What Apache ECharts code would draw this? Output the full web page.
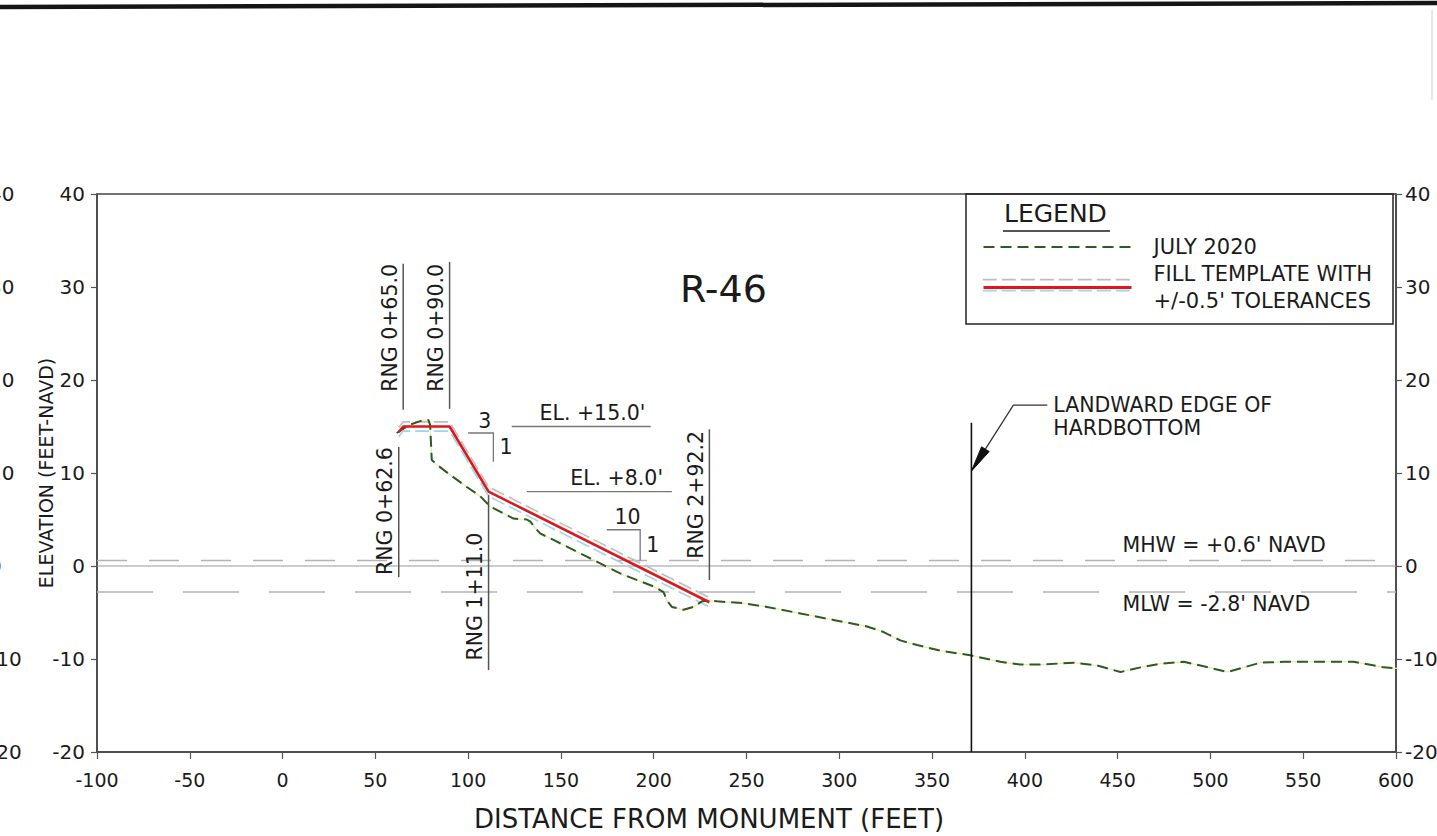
<!DOCTYPE html>
<html>
<head>
<meta charset="utf-8">
<title>R-46 Beach Profile</title>
<script src="https://cdn.jsdelivr.net/npm/echarts@6/dist/echarts.min.js"></script>
<style>
  html, body { margin: 0; padding: 0; background: #ffffff; }
  #chart { width: 1437px; height: 836px; }
</style>
</head>
<body>
<div id="chart"></div>
<script>
const FONT = '"DejaVu Sans", Verdana, sans-serif';
const INK = '#1b1b1b';

// Axis ranges: [min, max, step]
const distanceAxis = [-100, 600, 50];
const elevationAxis = [-20, 40, 10];

// July 2020 survey profile (distance ft, elevation ft NAVD)
const surveyDistance = [61.5, 68.7, 75.9, 78.6, 79.5, 80.4, 83.1, 90.3, 99.3, 106.5,
  111.9, 124.4, 131.6, 133.4, 136.1, 138.8, 146.0, 164.0, 181.9, 199.9,
  205.3, 207.1, 209.8, 216.1, 221.5, 226.0, 230.5, 234.1, 248.4, 261.0,
  279.0, 296.9, 314.9, 323.9, 332.9, 341.9, 354.4, 370.6, 386.8, 397.6,
  408.4, 426.3, 439.0, 451.5, 462.3, 473.0, 485.6, 494.6, 509.0, 526.9,
  539.5, 577.2, 593.4, 600.3, 622.4];
const surveyElevation = [14.3, 15.2, 15.7, 15.7, 15.2, 11.4, 10.9, 9.8, 8.5, 7.5,
  6.4, 5.1, 5.0, 4.8, 4.1, 3.5, 2.8, 1.0, -0.8, -2.2,
  -2.8, -3.7, -4.4, -4.7, -4.4, -3.8, -3.7, -3.8, -4.0, -4.4,
  -5.1, -5.8, -6.5, -7.1, -8.0, -8.5, -9.1, -9.6, -10.3, -10.6,
  -10.6, -10.4, -10.7, -11.4, -10.9, -10.5, -10.3, -10.7, -11.4, -10.4,
  -10.3, -10.3, -10.9, -11.0, -11.0];

// Fill template vertices
const templateDistance = [62.6, 65.0, 90.0, 111.0, 230.0];
const templateElevation = [14.4, 15.0, 15.0, 8.0, -3.9];
const templateTolerance = 0.5;

// Tidal datums (ft NAVD)
const tideNames = ['MHW', 'MLW'];
const tideElevation = [0.6, -2.8];

// Range leaders
const stationLabels = ['RNG 0+62.6', 'RNG 0+65.0', 'RNG 0+90.0', 'RNG 1+11.0', 'RNG 2+92.2'];
const stationDistance = [62.6, 65.0, 90.0, 111.0, 230.0];

// Design elevation callouts
const calloutElevation = [15.0, 8.0];

// Slope callouts (run : rise)
const slopeRun = [3, 10];
const slopeRise = [1, 1];

// Landward edge of hardbottom
const hardbottomDistance = [371.2];

// ---- annotation geometry (data units) ----
// leader line [bottom elev, top elev, label centre elev]
const stationLeaderSpan = [[-1.2, 12.8, 5.9], [16.8, 32.5, 25.6], [16.9, 32.7, 25.6], [-11.2, 7.65, -3.3], [-1.5, 14.7, 7.65]];
// callout underline [from, to, text centre]
const calloutSpan = [[123.5, 198.4, 167], [131.6, 209.8, 180]];
// slope triangle corner [x, y, horizontal length, vertical length]
const slopeCorner = [[113.6, 14.3, 13.6, 3.1], [192.7, 3.9, 18, 3.3]];
const hardbottomLeader = { top: 15.4, tip: 10.2, elbow: [393.8, 17.3], end: 412.1 };
const tideLabelAt = 452.6;

const pairs = (xs, ys, dy = 0) => xs.map((x, i) => [x, ys[i] + dy]);
const tolText = `+/-${templateTolerance.toFixed(1)}'`;
const TEMPLATE_NAME = `FILL TEMPLATE WITH\n${tolText} TOLERANCES`;
const TOL_UP = `${tolText} TOLERANCE (UPPER)`;
const TOL_DN = `${tolText} TOLERANCE (LOWER)`;

const NOTE_SIZE = 20.5;
const textStyle = (extra) => Object.assign({ fill: INK, fontSize: NOTE_SIZE, fontFamily: FONT }, extra);

const chart = echarts.init(document.getElementById('chart'), null, { renderer: 'svg' });

const yAxisBase = {
  type: 'value', min: elevationAxis[0], max: elevationAxis[1], interval: elevationAxis[2],
  splitLine: { show: false },
  axisLine: { show: true, onZero: false, lineStyle: { color: '#444', width: 1.5 } },
  axisTick: { show: true, length: 6, lineStyle: { color: '#555', width: 1.2 } },
  axisLabel: { fontSize: 20, color: INK, fontFamily: FONT }
};

const legendHidden = { itemStyle: { opacity: 0 } };

const option = {
  animation: false,
  backgroundColor: '#ffffff',
  textStyle: { fontFamily: FONT },
  title: {
    text: 'R-46', left: 680, top: 270, padding: 0,
    textStyle: { fontSize: 38, fontWeight: 'normal', color: INK, fontFamily: FONT }
  },
  grid: {
    left: 97, right: 41, top: 194, bottom: 84, outerBoundsMode: 'none', containLabel: false,
    show: true, borderColor: '#444', borderWidth: 1.5
  },
  xAxis: {
    type: 'value', min: distanceAxis[0], max: distanceAxis[1], interval: distanceAxis[2],
    position: 'bottom',
    splitLine: { show: false },
    axisLine: { show: true, onZero: false, lineStyle: { color: '#444', width: 1.5 } },
    axisTick: { show: true, length: 7, lineStyle: { color: '#555', width: 1.2 } },
    axisLabel: { fontSize: 19, color: INK, fontFamily: FONT, margin: 18 },
    name: 'DISTANCE FROM MONUMENT (FEET)', nameLocation: 'middle', nameGap: 54, nameMoveOverlap: false,
    nameTextStyle: { fontSize: 26, color: INK, fontFamily: FONT, padding: [0, 75, 0, 0] }
  },
  yAxis: [
    Object.assign({}, yAxisBase, {
      position: 'left',
      axisLabel: Object.assign({}, yAxisBase.axisLabel, { margin: 12 }),
      name: 'ELEVATION (FEET-NAVD)', nameLocation: 'middle', nameGap: 42, nameMoveOverlap: false,
      nameTextStyle: { fontSize: 19, color: INK, fontFamily: FONT }
    }),
    Object.assign({}, yAxisBase, {
      position: 'right',
      axisLabel: Object.assign({}, yAxisBase.axisLabel, { margin: 9 })
    }),
    // right-hand scale of the neighbouring sheet panel, cut at the page edge
    Object.assign({}, yAxisBase, {
      position: 'left', offset: 117,
      axisLine: { show: false, onZero: false }, axisTick: { show: false },
      axisLabel: Object.assign({}, yAxisBase.axisLabel, { inside: true, margin: 9 })
    })
  ],
  legend: [
    Object.assign({
      data: [{ name: 'JULY 2020' }, { name: TEMPLATE_NAME, lineStyle: { width: 3 } }],
      orient: 'vertical', left: 982, top: 233.5, padding: 0,
      itemWidth: 148, itemHeight: 14, itemGap: 0, selectedMode: false,
      textStyle: { fontFamily: FONT, fontSize: 21, color: INK, lineHeight: 27, padding: [0, 0, 0, 17] }
    }, legendHidden),
    Object.assign({
      data: [TOL_UP], left: 982, top: 278, padding: 0,
      itemWidth: 148, itemHeight: 4, selectedMode: false, formatter: () => '',
      lineStyle: { width: 1.6 }, textStyle: { fontSize: 4, lineHeight: 4 }
    }, legendHidden),
    Object.assign({
      data: [TOL_DN], left: 982, top: 289, padding: 0,
      itemWidth: 148, itemHeight: 4, selectedMode: false, formatter: () => '',
      lineStyle: { width: 1.6 }, textStyle: { fontSize: 4, lineHeight: 4 }
    }, legendHidden)
  ],
  graphic: [
    { type: 'line', silent: true, shape: { x1: 0, y1: 7, x2: 1437, y2: 3 }, style: { stroke: '#151515', lineWidth: 4.5 } },
    { type: 'line', silent: true, shape: { x1: 1432, y1: 10, x2: 1432, y2: 100 }, style: { stroke: '#d0d0d0', lineWidth: 1 } },
    { type: 'rect', silent: true, shape: { x: 966, y: 194, width: 427, height: 130 }, style: { fill: 'none', stroke: '#222', lineWidth: 1.5 } },
    { type: 'text', silent: true, x: 1004, y: 213, style: textStyle({ text: 'LEGEND', fontSize: 25, verticalAlign: 'middle' }) },
    { type: 'line', silent: true, shape: { x1: 1003, y1: 231, x2: 1110, y2: 231 }, style: { stroke: '#555', lineWidth: 2 } }
  ],
  series: [
    // NAVD 0 reference line
    {
      type: 'line', name: 'NAVD 0', silent: true, symbol: 'none', z: 1,
      data: [[distanceAxis[0], 0], [distanceAxis[1], 0]],
      lineStyle: { color: '#9a9a9a', width: 1.2 }
    },
    // tidal datums
    ...tideNames.map((n, i) => ({
      type: 'line', name: n, silent: true, symbol: 'none', z: 1,
      data: [[distanceAxis[0], tideElevation[i]], [distanceAxis[1], tideElevation[i]]],
      lineStyle: { color: '#b3b3b3', width: 1.5, type: i === 0 ? [30, 22] : [56, 30] }
    })),
    // tolerance band around the template
    {
      type: 'line', name: TOL_UP, silent: true, symbol: 'none', z: 2,
      data: pairs(templateDistance, templateElevation, templateTolerance),
      lineStyle: { color: '#bdbdbd', width: 1.6, type: [14, 5] }
    },
    {
      type: 'line', name: TOL_DN, silent: true, symbol: 'none', z: 2,
      data: pairs(templateDistance, templateElevation, -templateTolerance),
      lineStyle: { color: '#9fd6e2', width: 1.6, type: [14, 5] }
    },
    // survey trace underlay
    {
      type: 'line', name: 'survey trace', silent: true, symbol: 'none', z: 3, clip: false,
      data: pairs(surveyDistance, surveyElevation),
      lineStyle: { color: '#e9ecaa', width: 1.2 }
    },
    {
      type: 'line', name: 'JULY 2020', silent: true, symbol: 'none', z: 4, clip: false,
      data: pairs(surveyDistance, surveyElevation),
      lineStyle: { color: '#2f5a22', width: 2, type: [11, 6] }
    },
    {
      type: 'line', name: TEMPLATE_NAME, silent: true, symbol: 'none', z: 5,
      data: pairs(templateDistance, templateElevation),
      lineStyle: { color: '#e0161c', width: 2.6 }
    },
    // range leaders with rotated labels
    {
      type: 'custom', name: 'ranges', silent: true, clip: false, z: 6,
      data: stationDistance.map((x, i) => [x, stationLeaderSpan[i][1]]),
      renderItem(params, api) {
        const i = params.dataIndex;
        const x = stationDistance[i];
        const [lo, hi, mid] = stationLeaderSpan[i];
        const a = api.coord([x, lo]), b = api.coord([x, hi]), m = api.coord([x, mid]);
        return {
          type: 'group', children: [
            { type: 'line', shape: { x1: a[0], y1: a[1], x2: b[0], y2: b[1] }, style: { stroke: '#555', lineWidth: 1.5, fill: 'none' } },
            { type: 'text', x: a[0] - 3, y: m[1], rotation: Math.PI / 2,
              style: textStyle({ text: stationLabels[i], align: 'center', verticalAlign: 'bottom' }) }
          ]
        };
      }
    },
    // design elevation callouts
    {
      type: 'custom', name: 'elevations', silent: true, clip: false, z: 6,
      data: calloutElevation.map((e, i) => [calloutSpan[i][2], e]),
      renderItem(params, api) {
        const i = params.dataIndex, e = calloutElevation[i];
        const [from, to, mid] = calloutSpan[i];
        const a = api.coord([from, e]), b = api.coord([to, e]), t = api.coord([mid, e]);
        return {
          type: 'group', children: [
            { type: 'line', shape: { x1: a[0], y1: a[1], x2: b[0], y2: b[1] }, style: { stroke: '#777', lineWidth: 1.3, fill: 'none' } },
            { type: 'text', x: t[0], y: a[1] - 3,
              style: textStyle({ text: `EL. +${e.toFixed(1)}'`, align: 'center', verticalAlign: 'bottom' }) }
          ]
        };
      }
    },
    // slope callouts
    {
      type: 'custom', name: 'slopes', silent: true, clip: false, z: 6,
      data: slopeCorner.map(c => [c[0], c[1]]),
      renderItem(params, api) {
        const i = params.dataIndex;
        const [cx, cy, h, v] = slopeCorner[i];
        const c = api.coord([cx, cy]), l = api.coord([cx - h, cy]), d = api.coord([cx, cy - v]);
        return {
          type: 'group', children: [
            { type: 'polyline', shape: { points: [l, c, d] }, style: { stroke: '#777', lineWidth: 1.3, fill: 'none' } },
            { type: 'text', x: (l[0] + c[0]) / 2 + 4, y: c[1] - 2,
              style: textStyle({ text: String(slopeRun[i]), align: 'center', verticalAlign: 'bottom' }) },
            { type: 'text', x: c[0] + 6, y: (c[1] + d[1]) / 2,
              style: textStyle({ text: String(slopeRise[i]), align: 'left', verticalAlign: 'middle' }) }
          ]
        };
      }
    },
    // landward edge of hardbottom
    {
      type: 'custom', name: 'hardbottom', silent: true, clip: false, z: 6,
      data: hardbottomDistance.map(x => [x, hardbottomLeader.tip]),
      renderItem(params, api) {
        const x = hardbottomDistance[params.dataIndex];
        const base = api.coord([x, elevationAxis[0]]), top = api.coord([x, hardbottomLeader.top]);
        const tip = api.coord([x, hardbottomLeader.tip]);
        const elbow = api.coord(hardbottomLeader.elbow);
        const end = api.coord([hardbottomLeader.end, hardbottomLeader.elbow[1]]);
        const dx = tip[0] - elbow[0], dy = tip[1] - elbow[1];
        const len = Math.hypot(dx, dy), ux = dx / len, uy = dy / len;
        const hl = 26, hw = 4.5;
        const bx = tip[0] - ux * hl, by = tip[1] - uy * hl;
        return {
          type: 'group', children: [
            { type: 'line', shape: { x1: base[0], y1: base[1], x2: top[0], y2: top[1] }, style: { stroke: '#111', lineWidth: 1.6, fill: 'none' } },
            { type: 'polyline', shape: { points: [end, elbow, [bx, by]] }, style: { stroke: '#333', lineWidth: 1.3, fill: 'none' } },
            { type: 'polygon', shape: { points: [tip, [bx - uy * hw, by + ux * hw], [bx + uy * hw, by - ux * hw]] }, style: { fill: '#111', stroke: '#111', lineWidth: 1 } },
            { type: 'text', x: end[0] + 6, y: end[1] + 11,
              style: textStyle({ text: 'LANDWARD EDGE OF\nHARDBOTTOM', lineHeight: 23, align: 'left', verticalAlign: 'middle' }) }
          ]
        };
      }
    },
    // tidal datum labels
    {
      type: 'custom', name: 'datums', silent: true, clip: false, z: 6,
      data: tideElevation.map(e => [tideLabelAt, e]),
      renderItem(params, api) {
        const i = params.dataIndex, e = tideElevation[i];
        const p = api.coord([tideLabelAt, e]);
        const sign = e >= 0 ? '+' : '-';
        return {
          type: 'text', x: p[0], y: p[1] + (e > 0 ? -15 : 12),
          style: textStyle({ text: `${tideNames[i]} = ${sign}${Math.abs(e).toFixed(1)}' NAVD`, align: 'left', verticalAlign: 'middle' })
        };
      }
    }
  ]
};

chart.setOption(option);
</script>
</body>
</html>
